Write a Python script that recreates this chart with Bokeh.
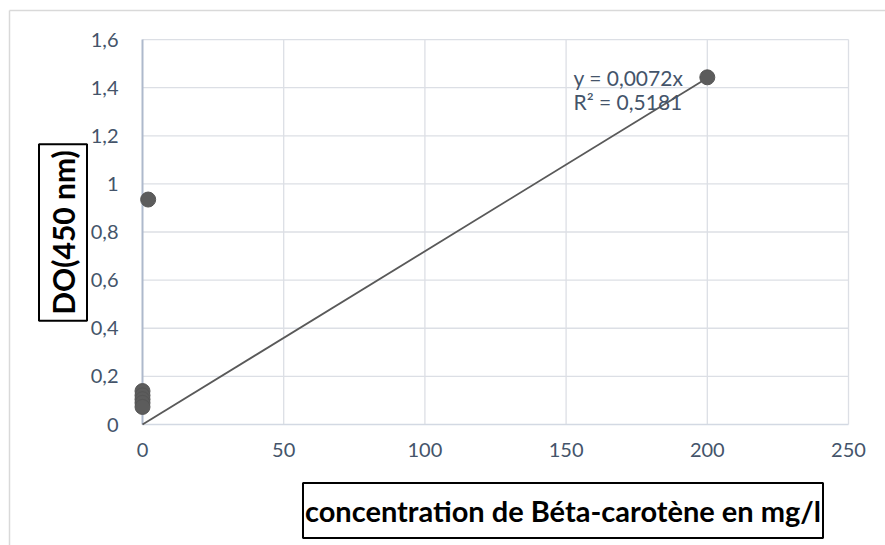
import math
from bokeh.plotting import figure
from bokeh.models import Range1d, FixedTicker, Label, LinearAxis
from bokeh.embed import file_html
from bokeh.resources import INLINE

# ---- data ----
conc = [0, 0, 0, 0, 0, 2, 200]
do450 = [0.139, 0.121, 0.105, 0.090, 0.073, 0.935, 1.443]
slope = 0.0072
trend_x = [0, 200]
eq_text = "y = 0,0072x"
r2_text = "R² = 0,5181"
x_ticks = [0, 50, 100, 150, 200, 250]
x_labels = ["0", "50", "100", "150", "200", "250"]
y_ticks = [0, 0.2, 0.4, 0.6, 0.8, 1.0, 1.2, 1.4, 1.6]
y_labels = ["0", "0,2", "0,4", "0,6", "0,8", "1", "1,2", "1,4", "1,6"]
x_title = "concentration de Béta-carotène en mg/l"
y_title = "DO(450 nm)"

# ---- layout (pixels) ----
W, H = 885, 545
X0, XS = 142.0, 2.824     # px of x=0, px per unit
Y0, YS = 424.0, 240.6     # px of y=0, px per unit


def dx(px):
    return (px - X0) / XS


def dy(py):
    return (Y0 - py) / YS


FONT = "Lato"
TICK_COLOR = "#44546A"
GRID = "#dcdfe5"

p = figure(width=W, height=H, output_backend="svg", toolbar_location=None,
           x_range=Range1d(dx(0), dx(W)), y_range=Range1d(dy(H), dy(0)),
           x_axis_location=None, y_axis_location=None,
           min_border=0, min_border_left=0, min_border_right=0,
           min_border_top=0, min_border_bottom=0)
p.outline_line_color = None
p.xgrid.visible = False
p.ygrid.visible = False
p.background_fill_color = "white"
p.border_fill_color = "white"

xaxis = LinearAxis(fixed_location=0, ticker=FixedTicker(ticks=x_ticks),
                   major_label_overrides={t: l for t, l in zip(x_ticks, x_labels)},
                   major_label_standoff=18)
yaxis = LinearAxis(fixed_location=0, ticker=FixedTicker(ticks=y_ticks),
                   major_label_overrides={t: l for t, l in zip(y_ticks, y_labels)},
                   major_label_standoff=24)
for ax in (xaxis, yaxis):
    ax.axis_line_color = None
    ax.major_tick_line_color = None
    ax.minor_tick_line_color = None
    ax.major_tick_in = 0
    ax.major_tick_out = 0
    ax.minor_tick_in = 0
    ax.minor_tick_out = 0
    ax.major_label_text_font = FONT
    ax.major_label_text_font_size = "20px"
    ax.major_label_text_color = TICK_COLOR
p.add_layout(xaxis, "below")
p.add_layout(yaxis, "left")

# outer chart border
p.segment(x0=[dx(9), dx(9)], y0=[dy(10), dy(10)], x1=[dx(9), dx(W)], y1=[dy(H), dy(10)],
          line_color="#d9d9d9", line_width=1.5)

xmax = x_ticks[-1]
ymax = y_ticks[-1]
# grid lines
p.segment(x0=[x_ticks[0]] * len(y_ticks[1:]), y0=y_ticks[1:],
          x1=[xmax] * len(y_ticks[1:]), y1=y_ticks[1:], line_color=GRID, line_width=1.3)
p.segment(x0=x_ticks[1:], y0=[y_ticks[0]] * len(x_ticks[1:]),
          x1=x_ticks[1:], y1=[ymax] * len(x_ticks[1:]), line_color=GRID, line_width=1.3)
# axis lines
p.segment(x0=[x_ticks[0]], y0=[y_ticks[0]], x1=[xmax], y1=[y_ticks[0]],
          line_color="#d3d9e3", line_width=1.6)
p.segment(x0=[x_ticks[0]], y0=[y_ticks[0]], x1=[x_ticks[0]], y1=[ymax],
          line_color="#aeb9cc", line_width=2)

# trendline
p.line(trend_x, [slope * x for x in trend_x], line_color="#595959", line_width=1.8)
# points
p.scatter(conc, do450, size=15, fill_color="#5c5c5c", line_color="#555555", line_width=1)

p.add_layout(Label(x=dx(573), y=dy(77), text=eq_text, text_font=FONT, text_font_size="21px",
                   text_color=TICK_COLOR, text_align="left", text_baseline="middle"))
p.add_layout(Label(x=dx(573), y=dy(101), text=r2_text, text_font=FONT, text_font_size="21px",
                   text_color=TICK_COLOR, text_align="left", text_baseline="middle"))

p.add_layout(Label(x=dx(562.5), y=dy(510), text=x_title, text_font=FONT,
                   text_font_size="29px", text_font_style="bold", text_color="black",
                   text_align="center", text_baseline="middle", border_line_color="black",
                   border_line_width=2, background_fill_color="white", padding=(2, 10)))
p.add_layout(Label(x=dx(62.5), y=dy(232), text=y_title, angle=math.pi / 2, text_font=FONT,
                   text_font_size="30px", text_font_style="bold", text_color="black",
                   text_align="center", text_baseline="middle", border_line_color="black",
                   border_line_width=2, background_fill_color="white", padding=(6, 6)))

open("out.html", "w").write(file_html(p, INLINE))
